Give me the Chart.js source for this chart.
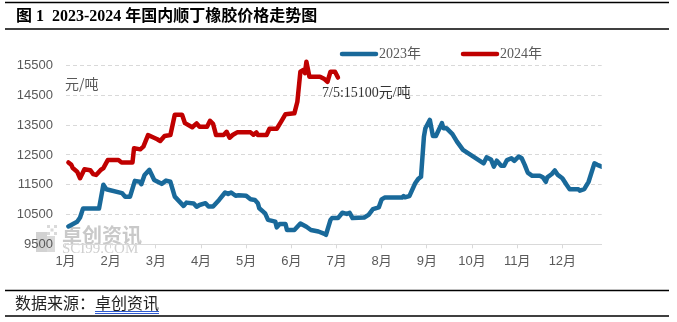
<!DOCTYPE html>
<html><head><meta charset="utf-8">
<script src="https://cdn.jsdelivr.net/npm/chart.js@4.4.0/dist/chart.umd.min.js"></script>
<style>html,body{margin:0;padding:0;background:#fff;}#wrap{position:relative;width:677px;height:322px;}</style>
</head><body><div id="wrap"><canvas id="c" width="677" height="322"></canvas></div>
<script>
// ---------- data ----------
const titleText = '图 1  2023-2024 年国内顺丁橡胶价格走势图';
const sourceLabel = '数据来源：';
const sourceName = '卓创资讯';
const unitLabel = '元/吨';
const annotationText = '7/5:15100元/吨';
const seriesNames = ['2023年', '2024年'];
const monthLabels = ['1月','2月','3月','4月','5月','6月','7月','8月','9月','10月','11月','12月'];
const yTickValues = [9500, 10500, 11500, 12500, 13500, 14500, 15500];

const dates2023 = [
  '1/3','1/9','1/11','1/13','1/24','1/27','1/29','2/8','2/10','2/13',
  '2/16','2/19','2/20','2/22','2/25','2/28','3/5','3/8','3/11','3/14',
  '3/20','3/22','3/27','3/29','3/31','4/4','4/6','4/9','4/13','4/17',
  '4/19','4/21','4/24','4/26','5/1','5/4','5/7','5/9','5/10','5/14',
  '5/16','5/21','5/22','5/24','5/28','5/29','6/3','6/7','6/11','6/14',
  '6/19','6/23','6/24','6/27','6/28','7/2','7/5','7/8','7/10','7/12',
  '7/20','7/23','7/26','7/30','8/1','8/3','8/15','8/16','8/17','8/20',
  '8/24','8/26','8/28','8/30','8/31','9/3','9/5','9/7','9/11','9/12',
  '9/14','9/18','9/21','9/25','10/9','10/11','10/14','10/16','10/18','10/21',
  '10/23','10/25','10/28','10/30','11/2','11/4','11/6','11/8','11/11','11/16',
  '11/18','11/20','11/21','11/24','11/26','11/28','12/1','12/4','12/6','12/12',
  '12/13','12/16','12/19','12/23','12/25','12/28'
];
const prices2023 = [
  10100,10260,10400,10700,10700,11500,11350,11220,11100,11100,
  11630,11600,11520,11830,12000,11660,11530,11640,11600,11100,
  10790,10900,10870,10760,10820,10880,10770,10770,10990,11240,
  11190,11240,11130,11150,11130,11010,10990,10880,10710,10540,
  10320,10260,10070,10180,10180,9980,9980,10200,10090,9980,
  9930,9850,9820,10320,10380,10380,10560,10520,10560,10380,
  10400,10490,10680,10740,11010,11070,11070,11120,11080,11120,
  11550,11690,11770,13120,13400,13680,13140,13140,13570,13400,
  13400,13200,12950,12670,12220,12420,12350,12110,12310,12140,
  12140,12330,12390,12300,12450,12390,12170,11910,11800,11800,
  11750,11600,11750,11860,11980,11830,11720,11490,11350,11350,
  11300,11350,11600,12220,12170,12110
];
const dates2024 = [
  '1/3','1/5','1/6','1/9','1/11','1/14','1/18','1/20','1/22','1/25',
  '1/27','1/30','2/6','2/8','2/15','2/16','2/20','2/22','2/25','3/2',
  '3/4','3/7','3/11','3/14','3/19','3/21','3/26','3/29','3/31','4/5',
  '4/7','4/9','4/11','4/16','4/18','4/20','4/22','4/25','5/4','5/6',
  '5/8','5/9','5/15','5/17','5/22','5/25','5/28','6/3','6/5','6/7',
  '6/9','6/10','6/11','6/13','6/20','6/23','6/25','6/27','6/30','7/2'
];
const prices2024 = [
  12250,12170,12060,11940,11720,12020,11990,11860,11830,11990,
  12060,12330,12330,12250,12250,12730,12690,12780,13170,13030,
  12970,13140,13170,13850,13850,13570,13430,13560,13450,13450,
  13650,13550,13170,13170,13280,13080,13170,13260,13260,13180,
  13260,13170,13170,13380,13380,13620,13870,13900,14290,15300,
  15360,15250,15630,15130,15130,15050,14960,15300,15300,15100
];
const xEndDate = '12/28';

// ---------- helpers ----------
function monthPos(md, year) {
  const [m, d] = md.split('/').map(Number);
  const dim = new Date(year, m, 0).getDate();
  return (m - 1) + (d - 1) / dim;
}
function toPoints(dates, values, year) {
  return dates.map((d, i) => ({ x: monthPos(d, year), y: values[i] }));
}

const BLUE = '#19699A';
const RED = '#C00000';
const GRID = '#D9D9D9';
const TXT = '#595959';

const decor = {
  id: 'decor',
  beforeDraw(chart) {
    const ctx = chart.ctx;
    ctx.save();
    ctx.fillStyle = '#fff';
    ctx.fillRect(0, 0, chart.width, chart.height);
    // watermark (behind axes and lines)
    ctx.fillStyle = '#D2D2D2';
    ctx.fillRect(36, 232, 11, 20);
    ctx.fillStyle = '#DADADA';
    for (let i = 0; i < 3; i++) for (let j = 0; j < 3; j++) {
      if ((i + j) % 2 === 0) ctx.fillRect(47 + i * 3.5, 225 + j * 3.5, 3, 3);
    }
    ctx.fillRect(47, 236, 8, 16);
    ctx.fillStyle = '#C9C9C9';
    ctx.font = 'bold 20px "Noto Sans CJK SC"';
    ctx.textBaseline = 'middle';
    ctx.fillText('卓创资讯', 62, 235);
    ctx.font = '15px "Liberation Serif"';
    ctx.fillStyle = '#CFCFCF';
    ctx.fillText('SCI99.COM', 62, 249);
    ctx.restore();
  },
  afterDraw(chart) {
    const ctx = chart.ctx;
    ctx.save();
    // rules
    ctx.strokeStyle = '#000';
    ctx.lineWidth = 1.5;
    [2.5, 29, 290.5, 316].forEach(y => {
      ctx.beginPath(); ctx.moveTo(5, y); ctx.lineTo(669, y); ctx.stroke();
    });
    // title
    ctx.fillStyle = '#000';
    ctx.textBaseline = 'middle';
    ctx.font = 'bold 16px "Liberation Serif", "Noto Sans CJK SC"';
    ctx.fillText(titleText, 16, 17);
    // footer
    ctx.font = '16px "Noto Sans CJK SC"';
    ctx.fillStyle = '#222';
    ctx.fillText(sourceLabel, 15, 303);
    const w = ctx.measureText(sourceLabel).width;
    ctx.fillText(sourceName, 15 + w, 303);
    const w2 = ctx.measureText(sourceName).width;
    ctx.strokeStyle = '#2F5BD3';
    ctx.lineWidth = 1;
    ctx.beginPath(); ctx.moveTo(15 + w, 311.5); ctx.lineTo(15 + w + w2, 311.5); ctx.stroke();
    ctx.beginPath(); ctx.moveTo(15 + w, 313.5); ctx.lineTo(15 + w + w2, 313.5); ctx.stroke();
    // legend
    const leg = [[BLUE, seriesNames[0], 342], [RED, seriesNames[1], 463]];
    leg.forEach(([c, t, x]) => {
      ctx.strokeStyle = c; ctx.lineWidth = 4.5; ctx.lineCap = 'round';
      ctx.beginPath(); ctx.moveTo(x, 54); ctx.lineTo(x + 34, 54); ctx.stroke();
      ctx.fillStyle = TXT;
      ctx.font = '14px "Liberation Serif", "Noto Sans CJK SC"';
      ctx.fillText(t, x + 37, 54);
    });
    // unit label
    ctx.fillStyle = TXT;
    ctx.font = '14px "Noto Sans CJK SC"';
    ctx.fillText(unitLabel, 65, 84);
    // annotation
    ctx.fillStyle = '#333';
    ctx.font = '14px "Liberation Serif", "Noto Sans CJK SC"';
    ctx.fillText(annotationText, 322, 93);
    ctx.restore();
  }
};

new Chart(document.getElementById('c'), {
  type: 'line',
  data: {
    datasets: [
      { label: seriesNames[0], data: toPoints(dates2023, prices2023, 2023), borderColor: BLUE, borderWidth: 4.5 },
      { label: seriesNames[1], data: toPoints(dates2024, prices2024, 2024), borderColor: RED, borderWidth: 4.5 }
    ]
  },
  options: {
    responsive: false,
    animation: false,
    devicePixelRatio: 1,
    layout: { padding: { left: 0, right: 75.3, top: 50.8, bottom: 0 } },
    elements: {
      point: { radius: 0 },
      line: { tension: 0, borderJoinStyle: 'round', borderCapStyle: 'round', fill: false }
    },
    plugins: { legend: { display: false }, tooltip: { enabled: false } },
    scales: {
      x: {
        type: 'linear',
        min: 0,
        max: monthPos(xEndDate, 2023),
        afterBuildTicks: s => { s.ticks = monthLabels.map((_, i) => ({ value: i })); },
        afterFit: s => { s.height = 77.7; },
        ticks: {
          autoSkip: false, maxRotation: 0, padding: 5,
          color: TXT,
          font: { family: '"Liberation Sans", "Noto Sans CJK SC"', size: 13 },
          callback: v => monthLabels[v]
        },
        grid: { drawOnChartArea: false, drawTicks: true, tickLength: 4, color: GRID },
        border: { display: true, color: GRID, width: 1 }
      },
      y: {
        min: 9500,
        max: 16000,
        afterBuildTicks: s => { s.ticks = yTickValues.map(v => ({ value: v })); },
        afterFit: s => { s.width = 65.5; },
        ticks: {
          padding: 12.5, color: TXT,
          font: { family: '"Liberation Sans"', size: 13 },
          callback: v => String(v)
        },
        grid: {
          drawTicks: false,
          color: c => (c.tick && c.tick.value === 9500) ? 'rgba(0,0,0,0)' : GRID
        },
        border: { display: false, dash: [4, 3] }
      }
    }
  },
  plugins: [decor]
});
</script></body></html>
